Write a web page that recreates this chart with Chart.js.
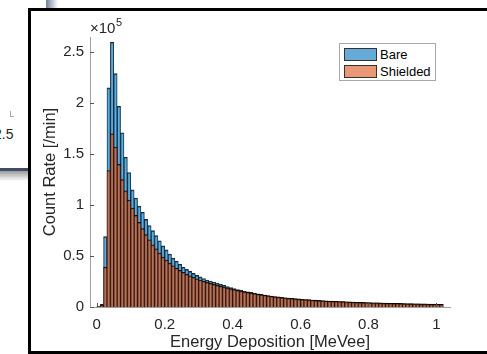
<!DOCTYPE html>
<html>
<head>
<meta charset="utf-8">
<script src="https://cdn.jsdelivr.net/npm/chart.js@4.4.0/dist/chart.umd.min.js"></script>
<style>
  html, body { margin: 0; width: 487px; height: 354px; overflow: hidden; background: #fff; }
  body { position: relative; font-family: "Liberation Sans", Arial, sans-serif; }
  .abs { position: absolute; }
  #fig { left: 28px; top: 8px; width: 459px; height: 340px; border-top: 3px solid #000; border-left: 3px solid #000; border-bottom: 3px solid #000; background: #fff; }
  #chart { position: absolute; left: 31px; top: 11px; }
  .legend { left: 339px; top: 43px; width: 97px; height: 38px; border: 1px solid #a8a8a8; background: #fff; box-sizing: border-box; }
  .sw { position: absolute; left: 4px; width: 33px; height: 13px; box-sizing: border-box; border: 1px solid #333; }
  .lt { position: absolute; left: 40px; font-size: 13px; line-height: 15px; color: #000; }
</style>
</head>
<body>
<!-- window behind the figure -->
<div class="abs" style="left:46px;top:0;width:12px;height:8px;background:linear-gradient(to right,#6d7d99,#b9c0cc,#fff);"></div>
<div class="abs" style="left:10px;top:111px;width:1px;height:6px;background:#aaa;"></div>
<div class="abs" style="left:10px;top:116px;width:4px;height:1px;background:#aaa;"></div>
<div class="abs" style="left:-6px;top:126px;font-size:14px;color:#262626;">2.5</div>
<div class="abs" style="left:0;top:168px;width:30px;height:3px;background:#3e4c69;"></div>
<div class="abs" style="left:0;top:171px;width:30px;height:10px;background:linear-gradient(#9a9a9a,#fff);"></div>

<div id="fig" class="abs"></div>
<canvas id="chart" width="456" height="340"></canvas>

<div class="abs legend">
  <div class="sw" style="top:4px;background:rgba(0,114,189,0.6);"></div>
  <div class="lt" style="top:3px;">Bare</div>
  <div class="sw" style="top:21px;background:rgba(217,83,25,0.6);"></div>
  <div class="lt" style="top:20px;">Shielded</div>
</div>

<script>
// bin centres [MeVee], bin width 0.01
const binCenters = [
  0.005, 0.015, 0.025, 0.035, 0.045, 0.055, 0.065, 0.075, 0.085, 0.095,
  0.105, 0.115, 0.125, 0.135, 0.145, 0.155, 0.165, 0.175, 0.185, 0.195,
  0.205, 0.215, 0.225, 0.235, 0.245, 0.255, 0.265, 0.275, 0.285, 0.295,
  0.305, 0.315, 0.325, 0.335, 0.345, 0.355, 0.365, 0.375, 0.385, 0.395,
  0.405, 0.415, 0.425, 0.435, 0.445, 0.455, 0.465, 0.475, 0.485, 0.495,
  0.505, 0.515, 0.525, 0.535, 0.545, 0.555, 0.565, 0.575, 0.585, 0.595,
  0.605, 0.615, 0.625, 0.635, 0.645, 0.655, 0.665, 0.675, 0.685, 0.695,
  0.705, 0.715, 0.725, 0.735, 0.745, 0.755, 0.765, 0.775, 0.785, 0.795,
  0.805, 0.815, 0.825, 0.835, 0.845, 0.855, 0.865, 0.875, 0.885, 0.895,
  0.905, 0.915, 0.925, 0.935, 0.945, 0.955, 0.965, 0.975, 0.985, 0.995,
  1.005, 1.015
];

// count rate, units of 1e5 /min
const bare = [
  0.004, 0.025, 0.69, 2.15, 2.60, 2.29, 1.97, 1.71, 1.47, 1.32,
  1.15, 1.07, 0.99, 0.93, 0.86, 0.80, 0.75, 0.70, 0.65, 0.60,
  0.56, 0.52, 0.48, 0.45, 0.42, 0.39, 0.37, 0.35, 0.33, 0.31,
  0.295, 0.28, 0.265, 0.255, 0.245, 0.235, 0.222, 0.212, 0.20, 0.19,
  0.18, 0.172, 0.165, 0.157, 0.15, 0.143, 0.136, 0.13, 0.124, 0.118,
  0.112, 0.107, 0.103, 0.099, 0.095, 0.091, 0.088, 0.085, 0.082, 0.079,
  0.076, 0.074, 0.072, 0.069, 0.067, 0.065, 0.063, 0.061, 0.059, 0.058,
  0.056, 0.054, 0.053, 0.051, 0.05, 0.049, 0.047, 0.046, 0.045, 0.044,
  0.043, 0.042, 0.041, 0.04, 0.039, 0.038, 0.037, 0.036, 0.036, 0.035,
  0.034, 0.033, 0.033, 0.032, 0.031, 0.03, 0.03, 0.029, 0.028, 0.028,
  0.027, 0.026
];

const shielded = [
  0.003, 0.02, 0.39, 1.34, 1.70, 1.57, 1.40, 1.25, 1.14, 1.05,
  0.97, 0.90, 0.83, 0.77, 0.71, 0.66, 0.61, 0.57, 0.53, 0.49,
  0.46, 0.43, 0.405, 0.38, 0.36, 0.34, 0.32, 0.305, 0.29, 0.277,
  0.265, 0.253, 0.242, 0.232, 0.222, 0.213, 0.204, 0.195, 0.186, 0.178,
  0.17, 0.163, 0.156, 0.149, 0.143, 0.137, 0.131, 0.125, 0.12, 0.115,
  0.11, 0.105, 0.101, 0.097, 0.093, 0.089, 0.086, 0.083, 0.08, 0.077,
  0.074, 0.072, 0.07, 0.067, 0.065, 0.063, 0.061, 0.059, 0.058, 0.056,
  0.055, 0.053, 0.052, 0.05, 0.049, 0.048, 0.046, 0.045, 0.044, 0.043,
  0.042, 0.041, 0.04, 0.039, 0.038, 0.037, 0.036, 0.035, 0.035, 0.034,
  0.033, 0.032, 0.032, 0.031, 0.03, 0.029, 0.029, 0.028, 0.027, 0.027,
  0.026, 0.025
];

const xTicks = [0, 0.2, 0.4, 0.6, 0.8, 1];
const yTicks = [0, 0.5, 1, 1.5, 2, 2.5];

const textColor = "#262626";
const axisColor = "#a0a0a0";
const font = "Liberation Sans";

// MATLAB style inward tick marks and the x10^5 exponent
const matlabAxes = {
  id: "matlabAxes",
  afterDraw(chart) {
    const { ctx, chartArea, scales } = chart;
    ctx.save();
    ctx.strokeStyle = "#555";
    ctx.lineWidth = 1;
    ctx.beginPath();
    yTicks.forEach((t) => {
      const y = Math.round(scales.y.getPixelForValue(t)) + 0.5;
      ctx.moveTo(chartArea.left, y);
      ctx.lineTo(chartArea.left + 4, y);
    });
    xTicks.forEach((t) => {
      const x = Math.round(scales.x.getPixelForValue(t)) + 0.5;
      ctx.moveTo(x, chartArea.bottom);
      ctx.lineTo(x, chartArea.bottom - 4);
    });
    ctx.stroke();

    ctx.fillStyle = textColor;
    ctx.textBaseline = "alphabetic";
    ctx.font = `15px "${font}"`;
    ctx.fillText("\u00d710", chartArea.left, chartArea.top - 4);
    const w = ctx.measureText("\u00d710").width;
    ctx.font = `11px "${font}"`;
    ctx.fillText("5", chartArea.left + w + 0.5, chartArea.top - 11);
    ctx.restore();
  },
};

const toXY = (arr) => arr.map((v, i) => ({ x: binCenters[i], y: v }));

new Chart(document.getElementById("chart"), {
  type: "bar",
  data: {
    datasets: [
      {
        label: "Bare",
        data: toXY(bare),
        order: 2,
        backgroundColor: "rgba(0,114,189,0.6)",
        borderColor: "rgba(0,0,0,0.85)",
        borderWidth: { top: 1, left: 0.5, right: 0.5, bottom: 0 },
      },
      {
        label: "Shielded",
        data: toXY(shielded),
        order: 1,
        backgroundColor: "rgba(217,83,25,0.6)",
        borderColor: "rgba(0,0,0,0.85)",
        borderWidth: { top: 1, left: 0.5, right: 0.5, bottom: 0 },
      },
    ],
  },
  options: {
    responsive: false,
    animation: false,
    devicePixelRatio: 1,
    layout: { padding: { top: 26, right: 37, left: 0, bottom: 0 } },
    plugins: { legend: { display: false }, tooltip: { enabled: false } },
    datasets: { bar: { grouped: false, barPercentage: 1, categoryPercentage: 1, borderSkipped: "start" } },
    scales: {
      x: {
        type: "linear",
        offset: false,
        min: -0.02,
        max: 1.04,
        grid: { display: false, drawTicks: false, tickLength: 0 },
        border: { display: true, color: axisColor, width: 1 },
        ticks: {
          stepSize: 0.2,
          includeBounds: false,
          padding: 9,
          maxRotation: 0,
          color: textColor,
          font: { family: font, size: 15 },
          callback: (v) => String(Number(v.toFixed(2))),
        },
        title: {
          display: true,
          text: "Energy Deposition [MeVee]",
          color: textColor,
          font: { family: font, size: 16.5, lineHeight: 1 },
          padding: { top: 0, bottom: 0 },
        },
        afterFit: (s) => { s.height = 44; },
      },
      y: {
        min: 0,
        max: 2.65,
        grid: { display: false, drawTicks: false, tickLength: 0 },
        border: { display: true, color: axisColor, width: 1 },
        ticks: {
          stepSize: 0.5,
          includeBounds: false,
          padding: 6,
          color: textColor,
          font: { family: font, size: 15 },
          callback: (v) => String(v),
        },
        title: {
          display: true,
          text: "Count Rate [/min]",
          color: textColor,
          font: { family: font, size: 16.5, lineHeight: 1 },
          padding: { top: 11, bottom: 0 },
        },
        afterFit: (s) => { s.width = 59; },
      },
    },
  },
  plugins: [matlabAxes],
});
</script>
</body>
</html>
